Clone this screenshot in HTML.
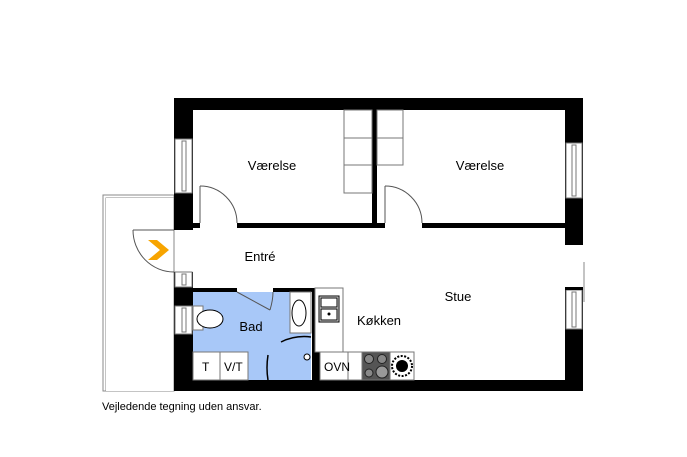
<!DOCTYPE html>
<html><head><meta charset="utf-8"><style>
html,body{margin:0;padding:0;background:#fff;}
svg{display:block;}
text{font-family:"Liberation Sans",sans-serif;fill:#000;}
</style></head><body>
<svg width="687" height="457" viewBox="0 0 687 457" xmlns="http://www.w3.org/2000/svg">
<!-- balcony -->
<rect x="103" y="195" width="71" height="196" fill="none" stroke="#888" stroke-width="1"/>
<rect x="106" y="198" width="68" height="193" fill="none" stroke="#888" stroke-width="1"/>
<rect x="106" y="198" width="68" height="193" fill="#fff"/>
<line x1="174" y1="195" x2="174" y2="391" stroke="#888"/>
<!-- bath floor -->
<rect x="193" y="292" width="118" height="88" fill="#a8c8f8"/>
<!-- outer walls -->
<rect x="174" y="98" width="409" height="12" fill="#000"/>
<rect x="174" y="380" width="409" height="11" fill="#000"/>
<rect x="174" y="98" width="19" height="132" fill="#000"/>
<rect x="174" y="272" width="19" height="119" fill="#000"/>
<rect x="565" y="98" width="18" height="147" fill="#000"/>
<rect x="565" y="287" width="18" height="104" fill="#000"/>
<!-- left windows -->
<g fill="#fff" stroke="#777" stroke-width="1">
<rect x="175" y="139" width="17" height="54"/>
<rect x="182" y="141" width="4" height="50"/>
<rect x="175" y="272" width="17" height="15"/>
<rect x="182" y="274" width="4" height="11"/>
<rect x="175" y="306" width="17" height="28"/>
<rect x="182" y="308" width="4" height="24"/>
<rect x="566" y="143" width="16" height="55"/>
<rect x="572" y="145" width="4" height="51"/>
<rect x="566" y="290" width="16" height="39"/>
<rect x="572" y="292" width="4" height="35"/>
</g>
<line x1="584" y1="262" x2="584" y2="302" stroke="#888"/>
<rect x="565" y="287" width="18" height="3" fill="#000"/>
<!-- interior walls -->
<rect x="193" y="223" width="7" height="5" fill="#000"/>
<rect x="237" y="223" width="148" height="5" fill="#000"/>
<rect x="422" y="223" width="143" height="5" fill="#000"/>
<rect x="372" y="110" width="5" height="113" fill="#000"/>
<!-- closets -->
<g fill="none" stroke="#777" stroke-width="1">
<rect x="344" y="110" width="28" height="28"/>
<rect x="344" y="138" width="28" height="27"/>
<rect x="344" y="165" width="28" height="28"/>
<rect x="377" y="110" width="26" height="28"/>
<rect x="377" y="138" width="26" height="27"/>
</g>
<!-- doors -->
<g fill="none" stroke="#555" stroke-width="1">
<line x1="200" y1="186" x2="200" y2="223"/>
<path d="M200 186 A37 37 0 0 1 237 223"/>
<line x1="385" y1="186" x2="385" y2="223"/>
<path d="M385 186 A37 37 0 0 1 422 223"/>
<line x1="133" y1="230" x2="174" y2="230"/>
<path d="M133 230 A41 42 0 0 0 174 272"/>
<line x1="237" y1="292" x2="270" y2="310"/>
<path d="M270 310 Q273 300 273 292"/>
</g>
<polygon points="148,240 157,240 169,250 157,260 148,260 160,250" fill="#f7a400"/>
<!-- bath walls -->
<rect x="174" y="288" width="63" height="4" fill="#000"/>
<rect x="273" y="288" width="42" height="4" fill="#000"/>
<rect x="312" y="288" width="3" height="50" fill="#000"/>
<rect x="312" y="338" width="8" height="42" fill="#000"/>
<!-- bath fixtures -->
<rect x="290" y="292" width="21" height="41" fill="#fff" stroke="#777"/>
<ellipse cx="299" cy="313" rx="7" ry="13" fill="#fff" stroke="#000"/>
<rect x="193" y="306" width="10" height="24" fill="#fff" stroke="#777"/>
<ellipse cx="210" cy="319" rx="13" ry="9" fill="#fff" stroke="#000"/>
<rect x="193" y="352" width="27" height="28" fill="#fff" stroke="#777"/>
<rect x="220" y="352" width="28" height="28" fill="#fff" stroke="#777"/>
<text x="202" y="371" font-size="12">T</text>
<text x="224" y="371" font-size="12">V/T</text>
<path d="M281 342 Q295 335 311 337" fill="none" stroke="#000" stroke-width="1.5"/>
<path d="M268 355 Q266 368 268 380" fill="none" stroke="#000" stroke-width="1.5"/>
<circle cx="307" cy="357" r="3" fill="#fff" stroke="#000"/>
<!-- kitchen -->
<rect x="315" y="288" width="28" height="64" fill="#fff" stroke="#777"/>
<rect x="319" y="296" width="20" height="26" fill="#ddd" stroke="#000"/>
<rect x="321" y="298" width="16" height="9" fill="#fff" stroke="#000"/>
<rect x="321" y="309" width="16" height="11" fill="#fff" stroke="#000"/>
<circle cx="329" cy="314" r="1.5" fill="#000"/>
<rect x="320" y="352" width="28" height="28" fill="#fff" stroke="#777"/>
<rect x="348" y="352" width="14" height="28" fill="#fff" stroke="#777"/>
<rect x="362" y="352" width="28" height="28" fill="#555" stroke="#777"/>
<circle cx="369" cy="359" r="4.5" fill="#888" stroke="#222"/>
<circle cx="382" cy="359" r="4.5" fill="#888" stroke="#222"/>
<circle cx="369" cy="373" r="4" fill="#888" stroke="#222"/>
<circle cx="382" cy="372" r="6" fill="#999" stroke="#222"/>
<rect x="390" y="352" width="24" height="28" fill="#fff" stroke="#777"/>
<circle cx="402" cy="366" r="10" fill="#fff" stroke="#000" stroke-width="2" stroke-dasharray="2 1.5"/>
<circle cx="402" cy="366" r="6" fill="#000"/>
<!-- labels -->
<text x="272" y="170" font-size="13" text-anchor="middle">Værelse</text>
<text x="480" y="170" font-size="13" text-anchor="middle">Værelse</text>
<text x="260" y="261" font-size="13" text-anchor="middle">Entré</text>
<text x="458" y="301" font-size="13" text-anchor="middle">Stue</text>
<text x="251" y="331" font-size="13" text-anchor="middle">Bad</text>
<text x="379" y="325" font-size="13" text-anchor="middle">Køkken</text>
<text x="324" y="371" font-size="12">OVN</text>
<text x="102" y="410" font-size="11">Vejledende tegning uden ansvar.</text>
</svg>
</body></html>
